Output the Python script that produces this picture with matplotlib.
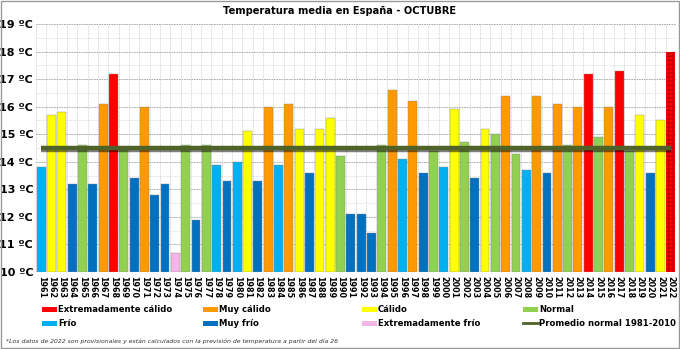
import matplotlib
matplotlib.use("Agg")
import matplotlib.pyplot as plt
import matplotlib.patheffects as pe
from matplotlib.patches import Rectangle
from matplotlib.lines import Line2D

years = list(range(1961, 2023))
temps = [13.8, 15.7, 15.8, 13.2, 14.6, 13.2, 16.1, 17.2, 14.5, 13.4,
         16.0, 12.8, 13.2, 10.7, 14.6, 11.9, 14.6, 13.9, 13.3, 14.0,
         15.1, 13.3, 16.0, 13.9, 16.1, 15.2, 13.6, 15.2, 15.6, 14.2,
         12.1, 12.1, 11.4, 14.6, 16.6, 14.1, 16.2, 13.6, 14.4, 13.8,
         15.9, 14.7, 13.4, 15.2, 15.0, 16.4, 14.3, 13.7, 16.4, 13.6,
         16.1, 14.6, 16.0, 17.2, 14.9, 16.0, 17.3, 14.4, 15.7, 13.6,
         15.5, 18.0]
cats = ["F", "C", "C", "MF", "N", "MF", "MC", "EC", "N", "MF",
        "MC", "MF", "MF", "EF", "N", "MF", "N", "F", "MF", "F",
        "C", "MF", "MC", "F", "MC", "C", "MF", "C", "C", "N",
        "MF", "MF", "MF", "N", "MC", "F", "MC", "MF", "N", "F",
        "C", "N", "MF", "C", "N", "MC", "N", "F", "MC", "MF",
        "MC", "N", "MC", "EC", "N", "MC", "EC", "N", "C", "MF",
        "C", "EC"]
avg_normal = 14.5
provisional_year = 2022

cat_names = {"EC": "Extremadamente cálido", "MC": "Muy cálido", "C": "Cálido",
             "N": "Normal", "F": "Frío", "MF": "Muy frío", "EF": "Extremadamente frío"}
cat_colors = {"EC": "#FF0000", "MC": "#FF9900", "C": "#FFFF00", "N": "#92D050",
              "F": "#00B0F0", "MF": "#0070C0", "EF": "#F4B6E4"}
line_color = "#4F6228"
legend_rows = [["EC", "MC", "C", "N"], ["F", "MF", "EF", "AVG"]]
avg_label = "Promedio normal 1981-2010"

W, H = 680, 349
fig = plt.figure(figsize=(6.8, 3.49), dpi=100)
ax = fig.add_axes([36 / W, 1 - 272 / H, 640 / W, 248 / H])

x = list(range(len(years)))
for xi, yr, t, c in zip(x, years, temps, cats):
    if yr == provisional_year:
        ax.bar(xi, t - 10, bottom=10, width=0.86, color=cat_colors[c],
               edgecolor="#C80000", hatch="++++", linewidth=0, zorder=3)
    else:
        ax.bar(xi, t - 10, bottom=10, width=0.86, color=cat_colors[c],
               edgecolor="#8a8a8a", linewidth=0.3, zorder=3)

ax.plot(x, [avg_normal] * len(x), color=line_color, lw=3.2, zorder=4,
        solid_capstyle="butt",
        path_effects=[pe.SimpleLineShadow(offset=(0, -1.2), alpha=0.5), pe.Normal()])

ax.set_xlim(-0.5, len(years) - 0.5)
ax.set_ylim(10, 19)
ax.set_yticks(range(10, 20))
ax.set_yticklabels([f"{v} ºC" for v in range(10, 20)], fontsize=8, fontweight="bold")
ax.set_yticks([v + 0.5 for v in range(10, 19)], minor=True)
ax.set_xticks(x)
ax.set_xticklabels([str(y) for y in years], rotation=-90, fontsize=5.8,
                   fontweight="bold")
ax.set_xticks([v - 0.5 for v in range(len(years) + 1)], minor=True)
ax.tick_params(axis="both", which="both", length=0)
ax.tick_params(axis="x", pad=3)
ax.tick_params(axis="y", pad=2)

ax.grid(axis="y", which="major", color="#a0a0a0", linestyle=(0, (2, 1)), lw=0.6, zorder=0)
ax.grid(axis="y", which="minor", color="#d0d0d0", linestyle=(0, (1, 1)), lw=0.5, zorder=0)
ax.grid(axis="x", which="minor", color="#c0c0c0", linestyle=(0, (1, 1)), lw=0.5, zorder=0)
for s in ax.spines.values():
    s.set_visible(False)

fig.text(0.5, 1 - 11 / H, "Temperatura media en España - OCTUBRE", ha="center", va="center",
         fontsize=7.1, fontweight="bold")

# legend: 2 rows x 4 columns
col_x = [42, 203, 362, 523]
row_y = [309, 323]
for r, row in enumerate(legend_rows):
    for cidx, k in enumerate(row):
        x0 = col_x[cidx]
        yc = row_y[r]
        if k == "AVG":
            fig.lines.append(Line2D([x0 / W, (x0 + 15) / W], [1 - yc / H, 1 - yc / H],
                                    transform=fig.transFigure, color=line_color, lw=2))
            lab = avg_label
        else:
            fig.patches.append(Rectangle((x0 / W, 1 - (yc + 2.5) / H), 15 / W, 5 / H,
                                         transform=fig.transFigure,
                                         facecolor=cat_colors[k], edgecolor="none"))
            lab = cat_names[k]
        fig.text((x0 + 16) / W, 1 - yc / H, lab, ha="left", va="center",
                 fontsize=6.1, fontweight="bold")

fig.text(6 / W, 1 - 341 / H, "*Los datos de 2022 son provisionales y están calculados con la previsión de temperatura a partir del día 26",
         fontsize=4.4, style="italic", color="#333333", va="center", ha="left")

fig.patches.append(Rectangle((0.001, 0.002), 0.997, 0.995, transform=fig.transFigure,
                             fill=False, edgecolor="#999999", lw=1))

fig.savefig("out.png", dpi=100)
